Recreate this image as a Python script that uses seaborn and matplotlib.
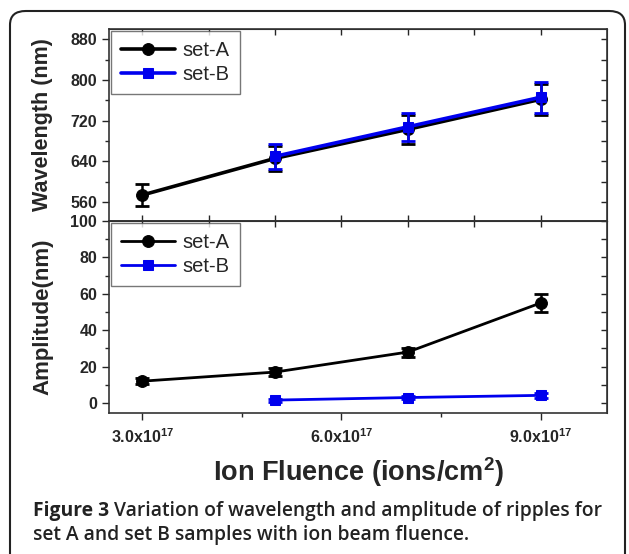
import numpy as np
import pandas as pd
import seaborn as sns
import matplotlib.pyplot as plt
from matplotlib.patches import FancyBboxPatch
from matplotlib.ticker import FixedLocator, MultipleLocator, NullFormatter

# ---- data ----
fluence_A = [3e17, 5e17, 7e17, 9e17]
fluence_B = [5e17, 7e17, 9e17]

wavelength_A = [574, 646, 703, 762]
wavelength_A_err = [21, 25, 28, 30]
wavelength_B = [650, 708, 766]
wavelength_B_err = [25, 28, 30]

amplitude_A = [12, 17, 28, 55]
amplitude_A_err = [1.5, 2, 2.5, 5]
amplitude_B = [1.6, 3.0, 4.2]
amplitude_B_err = [0.8, 1.0, 1.2]

xtick_vals = [3e17, 6e17, 9e17]
xtick_labels = [r'3.0x10$^{17}$', r'6.0x10$^{17}$', r'9.0x10$^{17}$']

sns.set_style("white")
plt.rcParams['font.family'] = ['Liberation Sans', 'DejaVu Sans']
plt.rcParams['mathtext.fontset'] = 'custom'
plt.rcParams['mathtext.rm'] = 'Liberation Sans:bold'
plt.rcParams['mathtext.it'] = 'Liberation Sans:bold'
plt.rcParams['mathtext.bf'] = 'Liberation Sans:bold'

fig = plt.figure(figsize=(6.29, 5.54), dpi=100)
ax1 = fig.add_axes([0.1733, 0.601, 0.792, 0.3467])
ax2 = fig.add_axes([0.1733, 0.2545, 0.792, 0.3465])

dA = pd.DataFrame({'x': fluence_A, 'wl': wavelength_A, 'amp': amplitude_A})
dB = pd.DataFrame({'x': fluence_B, 'wl': wavelength_B, 'amp': amplitude_B})


def draw(ax, col, errA, errB, lw):
    sns.lineplot(data=dA, x='x', y=col, ax=ax, color='black', marker='o',
                 markersize=8.5, linewidth=lw, label='set-A', markeredgecolor='black')
    ax.errorbar(dA['x'], dA[col], yerr=errA, fmt='none', ecolor='black',
                elinewidth=1.8, capsize=5, capthick=2)
    sns.lineplot(data=dB, x='x', y=col, ax=ax, color='#0000ee', marker='s',
                 markersize=7.5, linewidth=lw, label='set-B', markeredgecolor='#0000ee')
    ax.errorbar(dB['x'], dB[col], yerr=errB, fmt='none', ecolor='#0000ee',
                elinewidth=1.8, capsize=5, capthick=2)
    ax.set_xlim(2.5e17, 10e17)
    ax.set_xlabel('')
    for s in ax.spines.values():
        s.set_color('#333333')
        s.set_linewidth(1.2)
    leg = ax.legend(loc='upper left', fancybox=False, edgecolor='#555555',
                    fontsize=14.5, handlelength=2.7, borderaxespad=0.1,
                    labelspacing=0.25, handletextpad=0.35, borderpad=0.5)
    leg.get_frame().set_linewidth(1.0)
    # inward ticks on top and right
    top = ax.secondary_xaxis('top')
    top.xaxis.set_major_locator(FixedLocator(np.arange(3, 10) * 1e17))
    top.xaxis.set_major_formatter(NullFormatter())
    top.tick_params(direction='in', length=4, width=1)
    right = ax.secondary_yaxis('right')
    right.tick_params(direction='in', length=4, width=1, which='both')
    right.yaxis.set_major_formatter(NullFormatter())
    right.yaxis.set_minor_formatter(NullFormatter())
    return right


# top panel: wavelength
r1 = draw(ax1, 'wl', wavelength_A_err, wavelength_B_err, 2.6)
ax1.set_ylim(523, 900)
ax1.yaxis.set_major_locator(FixedLocator([560, 640, 720, 800, 880]))
ax1.yaxis.set_minor_locator(MultipleLocator(40))
r1.yaxis.set_major_locator(MultipleLocator(40))
ax1.xaxis.set_major_locator(FixedLocator(np.arange(3, 10) * 1e17))
ax1.set_xticklabels([])
ax1.tick_params(axis='x', direction='in', length=4, width=1, bottom=True)
ax1.tick_params(axis='y', which='both', direction='out', left=True, width=1)
ax1.tick_params(axis='y', which='major', length=5, labelsize=11.5)
ax1.tick_params(axis='y', which='minor', length=3)
ax1.set_ylabel('Wavelength (nm)', fontsize=15.5, fontweight='bold')
ax1.yaxis.set_label_coords(-0.112, 0.5)

# bottom panel: amplitude
r2 = draw(ax2, 'amp', amplitude_A_err, amplitude_B_err, 2.0)
ax2.set_ylim(-5.5, 100)
ax2.yaxis.set_major_locator(MultipleLocator(20))
ax2.yaxis.set_minor_locator(MultipleLocator(10))
r2.yaxis.set_major_locator(MultipleLocator(10))
ax2.xaxis.set_major_locator(FixedLocator(xtick_vals))
ax2.xaxis.set_minor_locator(FixedLocator([4.5e17, 7.5e17]))
ax2.set_xticklabels(xtick_labels)
ax2.tick_params(axis='both', which='both', direction='out', left=True, bottom=True, width=1)
ax2.tick_params(axis='both', which='major', length=5, labelsize=11.5)
ax2.tick_params(axis='both', which='minor', length=3)
ax2.tick_params(axis='x', pad=5)
for lab in ax2.get_xticklabels() + ax2.get_yticklabels() + ax1.get_yticklabels():
    lab.set_fontweight('bold')
ax2.set_ylabel('Amplitude(nm)', fontsize=16, fontweight='bold')
ax2.yaxis.set_label_coords(-0.112, 0.5)
ax2.set_xlabel(r'Ion Fluence (ions/cm$^{2}$)', fontsize=19.5, fontweight='bold', labelpad=7)

# rounded frame of the figure panel
box = FancyBboxPatch((10 / 629, -0.05), 615 / 629, 1 - 11 / 554 + 0.05,
                     boxstyle='round,pad=0,rounding_size=0.025',
                     transform=fig.transFigure, fill=False, edgecolor='#222222',
                     linewidth=1.5, clip_on=False)
fig.add_artist(box)

# caption
cap_font = ['Open Sans', 'DejaVu Sans']
t1 = fig.text(33 / 629, 1 - 511 / 554, 'Figure 3', fontsize=13.9, fontweight='bold',
              family=cap_font, va='center', ha='left', color='#222222')
fig.canvas.draw()
bb = t1.get_window_extent()
fig.text(bb.x1 / fig.bbox.width + 0.008, 1 - 511 / 554,
         'Variation of wavelength and amplitude of ripples for', fontsize=13.9,
         fontweight='semibold', family=cap_font, va='center', ha='left', color='#222222')
fig.text(33 / 629, 1 - 535 / 554, 'set A and set B samples with ion beam fluence.',
         fontsize=13.9, fontweight='semibold', family=cap_font, va='center', ha='left',
         color='#222222')

plt.savefig('out.png', dpi=100)
